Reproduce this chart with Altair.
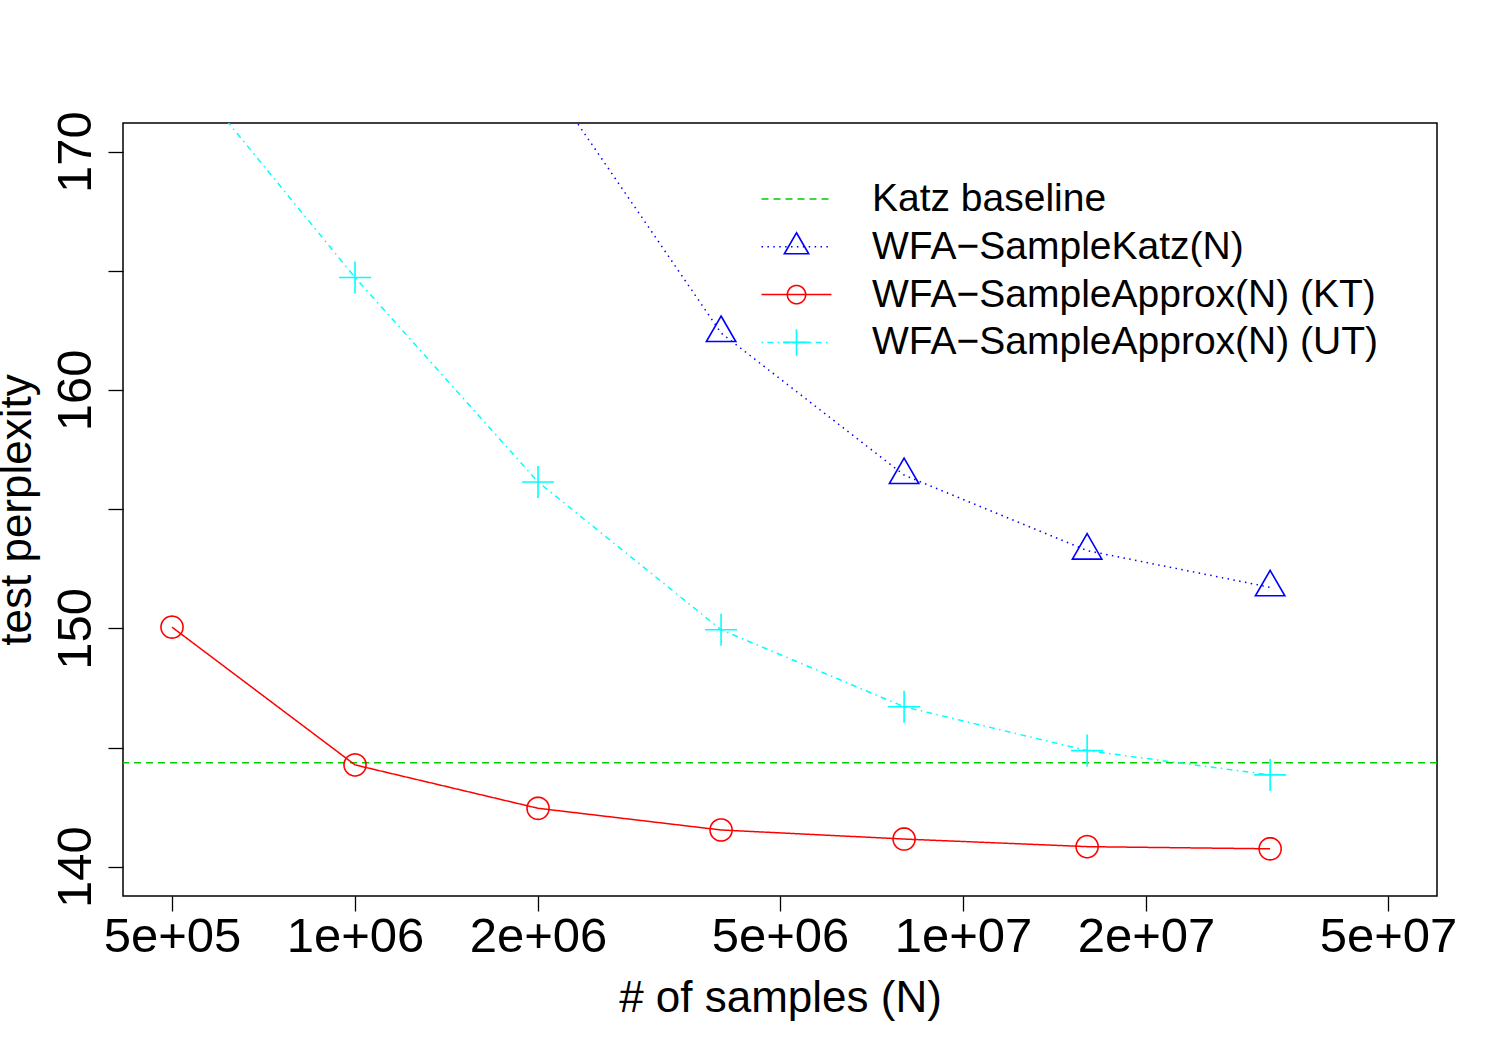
import math
import altair as alt
import pandas as pd

FONT = "Liberation Sans"

# Number of samples N (x, log scale) and test perplexity per method
samples = [5e5, 1e6, 2e6, 4e6, 8e6, 1.6e7, 3.2e7]
approx_kt = [150.05, 144.27, 142.45, 141.54, 141.16, 140.84, 140.75]
approx_ut = [174.1, 164.72, 156.14, 149.94, 146.71, 144.87, 143.85]
sample_katz_n = [2e6, 4e6, 8e6, 1.6e7, 3.2e7]
sample_katz = [173.6, 162.39, 156.43, 153.26, 151.72]
katz_baseline = 144.36

series_names = [
    "Katz baseline",
    "WFA\u2212SampleKatz(N)",
    "WFA\u2212SampleApprox(N) (KT)",
    "WFA\u2212SampleApprox(N) (UT)",
]
series_colors = ["#00CD00", "#0000FF", "#FF0000", "#00FFFF"]
series_dashes = [[7, 5], [1.5, 4.4], [1, 0], [1.5, 4.4, 5.8, 4.4]]

x_tick_values = [5e5, 1e6, 2e6, 5e6, 1e7, 2e7, 5e7]
x_tick_labels = ["5e+05", "1e+06", "2e+06", "5e+06", "1e+07", "2e+07", "5e+07"]
y_tick_values = [140, 145, 150, 155, 160, 165, 170]

# open plotting symbols as unit paths (scaled by sqrt(size)/2)
circle_r = 0.69
circle_path = "M" + "L".join(
    f"{circle_r * math.cos(2 * math.pi * k / 48):.4f},{circle_r * math.sin(2 * math.pi * k / 48):.4f}"
    for k in range(48)
) + "Z"
triangle_path = "M0,-1.062L0.92,0.531L-0.92,0.531Z"
plus_path = "M-1,0L1,0M0,-1L0,1"
none_path = "M0,0L0,0"
series_shapes = [none_path, triangle_path, circle_path, plus_path]

rows = []
for n, v in zip(samples, approx_kt):
    rows.append({"series": series_names[2], "N": n, "perplexity": v})
for n, v in zip(samples, approx_ut):
    rows.append({"series": series_names[3], "N": n, "perplexity": v})
for n, v in zip(sample_katz_n, sample_katz):
    rows.append({"series": series_names[1], "N": n, "perplexity": v})
curves = pd.DataFrame(rows)
baseline = pd.DataFrame({"series": [series_names[0]], "perplexity": [katz_baseline]})

x_label_expr = " : ".join(
    f"abs(datum.value - {v}) < {v * 1e-6} ? '{lab}'" for v, lab in zip(x_tick_values, x_tick_labels)
) + " : ''"

x_axis = alt.Axis(
    values=x_tick_values,
    labelExpr=x_label_expr,
    title="# of samples (N)",
    titleX=657,
    titleY=115,
    titleAlign="center",
    titleBaseline="alphabetic",
    titleFontSize=44,
    labelFontSize=49,
    labelPadding=1,
    tickSize=15,
    labelFlush=False,
    labelOverlap=False,
)
y_axis = alt.Axis(
    values=y_tick_values,
    labelExpr="datum.value % 10 == 0 ? datum.label : ''",
    title="test perplexity",
    titleAngle=270,
    titleX=-93,
    titleY=386.5,
    titleAlign="center",
    titleBaseline="alphabetic",
    titleFontSize=44,
    labelFontSize=49,
    labelAngle=270,
    labelAlign="center",
    labelBaseline="bottom",
    labelPadding=8,
    tickSize=15,
    labelFlush=False,
    labelOverlap=False,
)

x_scale = alt.Scale(type="log", domain=[4.153e5, 6.02e7], nice=False)
y_scale = alt.Scale(domain=[138.77, 171.2], nice=False, zero=False)

# line samples with labels
line_legend = alt.Legend(
    title=None,
    orient="none",
    legendX=637.5,
    legendY=56,
    padding=0,
    symbolType="stroke",
    symbolSize=4900,
    symbolStrokeWidth=1.5,
    labelFont=FONT,
    labelFontSize=39,
    labelColor="black",
    labelOffset=39.5,
    labelLimit=1000,
    clipHeight=40,
    rowPadding=7.8,
)
# plotting symbols laid over the middle of each line sample
point_legend = alt.Legend(
    title=None,
    orient="none",
    legendX=654,
    legendY=56,
    padding=0,
    symbolSize=700,
    symbolStrokeWidth=1.6,
    symbolFillColor="transparent",
    labelFont=FONT,
    labelFontSize=39,
    labelExpr="''",
    labelLimit=1000,
    clipHeight=40,
    rowPadding=7.8,
)

color_scale = alt.Scale(domain=series_names, range=series_colors)
dash_scale = alt.Scale(domain=series_names, range=series_dashes)
shape_scale = alt.Scale(domain=series_names, range=series_shapes)

base_rule = alt.Chart(baseline).mark_rule(strokeWidth=1.5).encode(
    y=alt.Y("perplexity:Q", scale=y_scale, axis=y_axis),
    color=alt.Color("series:N", scale=color_scale, legend=line_legend),
    strokeDash=alt.StrokeDash("series:N", scale=dash_scale, legend=line_legend),
)

curve_lines = alt.Chart(curves).mark_line(strokeWidth=1.5, clip=True).encode(
    x=alt.X("N:Q", scale=x_scale, axis=x_axis),
    y=alt.Y("perplexity:Q", scale=y_scale, axis=y_axis),
    color=alt.Color("series:N", scale=color_scale, legend=line_legend),
    strokeDash=alt.StrokeDash("series:N", scale=dash_scale, legend=line_legend),
)

curve_points = alt.Chart(curves).mark_point(
    filled=False, size=1024, strokeWidth=1.6, opacity=1, clip=True
).encode(
    x=alt.X("N:Q", scale=x_scale, axis=x_axis),
    y=alt.Y("perplexity:Q", scale=y_scale, axis=y_axis),
    color=alt.Color("series:N", scale=color_scale, legend=point_legend),
    shape=alt.Shape("series:N", scale=shape_scale, legend=point_legend),
)

chart = (
    alt.layer(alt.layer(base_rule, curve_lines), curve_points)
    .resolve_scale(color="independent", shape="independent", strokeDash="independent")
    .resolve_legend(color="independent", shape="independent", strokeDash="independent")
    .properties(
        width=1314,
        height=773,
        autosize=alt.AutoSizeParams(type="none"),
        padding={"left": 123, "top": 123, "right": 63, "bottom": 154},
        background="white",
    )
    .configure_view(stroke="black", strokeWidth=1.5)
    .configure_axis(
        grid=False,
        domain=False,
        tickColor="black",
        tickWidth=1.3,
        labelColor="black",
        titleColor="black",
        labelFont=FONT,
        titleFont=FONT,
        titleFontWeight="normal",
    )
)

chart.save("out.html", embed_options={"renderer": "svg", "actions": False})
